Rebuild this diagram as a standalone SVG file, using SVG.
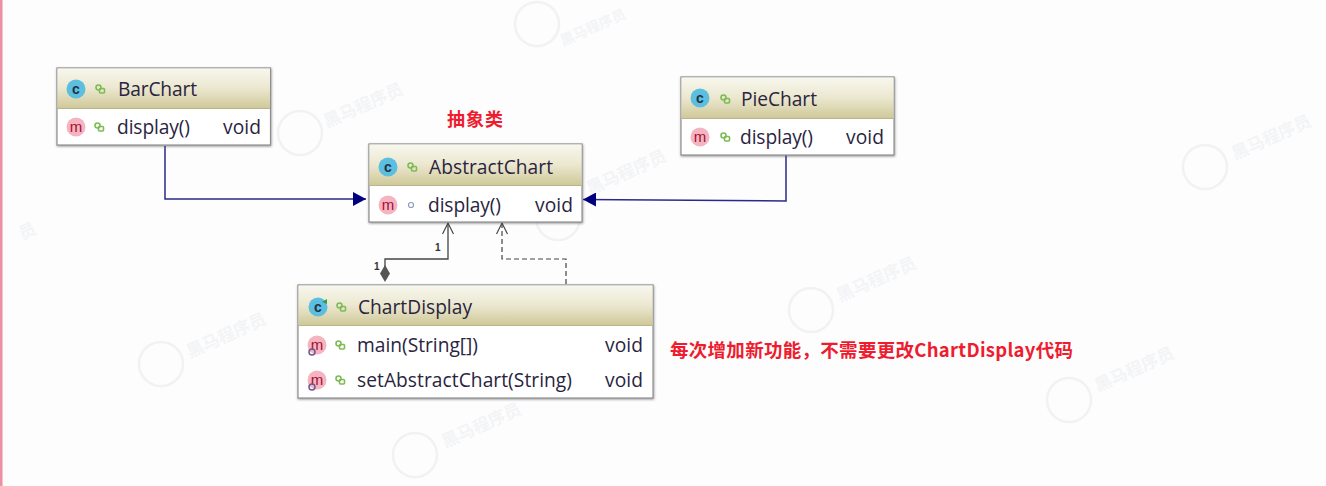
<svg xmlns="http://www.w3.org/2000/svg" width="1326" height="486" viewBox="0 0 1326 486">
<style>
.t{font-family:"Open Sans","Noto Sans",sans-serif;font-size:19.2px;fill:#2a2440}
.box{fill:#fff;stroke:#8f8f8f;stroke-width:1.2;filter:url(#sh)}
.c{fill:#5dbfe0}.ci{font-family:"Liberation Sans",sans-serif;font-size:14px;font-weight:700;fill:#234;text-anchor:middle}
.m{fill:#f6b4c0}.mi{font-family:"Liberation Sans",sans-serif;font-size:15px;fill:#a01038;text-anchor:middle}
.lk{fill:none;stroke:#7dbb55;stroke-width:1.6}
.sep{stroke:#b9b48c;stroke-width:1}
.red{font-family:"Noto Sans CJK SC",sans-serif;font-weight:700;fill:#ee1c2e}
.wm{font-family:"Noto Sans CJK SC",sans-serif;font-size:17px;font-weight:700;fill:#f3f4f6}
.wc{fill:none;stroke:#f1f2f4;stroke-width:2.500}
.n{font-family:"Liberation Sans",sans-serif;font-size:10px;font-weight:700;fill:#333}
</style>
<defs>
<linearGradient id="g" x1="0" y1="0" x2="0" y2="1"><stop offset="0" stop-color="#f8f7ee"/><stop offset="0.5" stop-color="#ebe7cf"/><stop offset="1" stop-color="#cfc898"/></linearGradient>
<filter id="sh" x="-5%" y="-5%" width="110%" height="115%"><feDropShadow dx="0.5" dy="1" stdDeviation="0.8" flood-color="#555" flood-opacity="0.6"/></filter>
<marker id="tri" markerUnits="userSpaceOnUse" markerWidth="14" markerHeight="14" refX="13" refY="7" orient="auto"><path d="M0 0L13 7L0 14Z" fill="#00007f"/></marker>
<marker id="op" markerUnits="userSpaceOnUse" markerWidth="14" markerHeight="12" refX="12" refY="6" orient="auto"><path d="M1 0.5L12 6L1 11.5" fill="none" stroke="#444" stroke-width="1.2"/></marker>
<g id="lock"><circle cx="-1.5" cy="-1.500" r="2.500" class="lk"/><rect x="-0.5" y="-0.5" width="5" height="4.500" rx="1" class="lk"/></g>
</defs>
<rect width="1326" height="486" fill="#fdfdfe"/>
<rect x="0" y="0" width="2.500" height="486" fill="#ee8fa3"/>
<g id="watermark">
<circle class="wc" cx="300" cy="133" r="22"/><text class="wm" transform="translate(327 128) rotate(-24)">黑马程序员</text>
<circle class="wc" cx="537" cy="24" r="22"/><text class="wm" style="font-size:14px" transform="translate(563 46) rotate(-24)">黑马程序员</text>
<circle class="wc" cx="558" cy="218" r="22"/><text class="wm" transform="translate(590 195) rotate(-24)">黑马程序员</text>
<circle class="wc" cx="811" cy="310" r="22"/><text class="wm" transform="translate(840 302) rotate(-24)">黑马程序员</text>
<circle class="wc" cx="161" cy="364" r="22"/><text class="wm" transform="translate(190 358) rotate(-24)">黑马程序员</text>
<circle class="wc" cx="415" cy="455" r="22"/><text class="wm" transform="translate(445 448) rotate(-24)">黑马程序员</text>
<circle class="wc" cx="1069" cy="400" r="22"/><text class="wm" transform="translate(1098 392) rotate(-24)">黑马程序员</text>
<circle class="wc" cx="1205" cy="167" r="22"/><text class="wm" transform="translate(1235 160) rotate(-24)">黑马程序员</text>
<text class="wm" transform="translate(790 122) rotate(-24)">黑马程序员</text>
<text class="wm" transform="translate(22 240) rotate(-24)">员</text>
</g>
<g id="connectors" fill="none">
<path d="M165 146V199H366" stroke="#2a2a8a" stroke-width="1.500" marker-end="url(#tri)"/>
<path d="M786 155V201L583 199.500" stroke="#2a2a8a" stroke-width="1.500" marker-end="url(#tri)"/>
<path d="M385 268V259H448V223" stroke="#444" stroke-width="1.300" marker-end="url(#op)"/>
<path d="M566 284V259H502V223" stroke="#444" stroke-width="1.200" stroke-dasharray="5 3" marker-end="url(#op)"/>
<path d="M385 265L390 273.500L385 282L380 273.500Z" fill="#555"/>
<text class="n" x="435" y="251">1</text>
<text class="n" x="374" y="270">1</text>
</g>
<g id="BarChart">
<rect class="box" x="57" y="68" width="213.500" height="77"/>
<rect x="57.500" y="68.500" width="212.500" height="40" fill="url(#g)"/><line class="sep" x1="57" y1="108.500" x2="270" y2="108.500"/>
<circle class="c" cx="76" cy="89" r="9.500"/><text class="ci" x="76" y="94">c</text><use href="#lock" x="100" y="89"/>
<text class="t" x="118" y="96" textLength="79">BarChart</text>
<circle class="m" cx="76" cy="127" r="9.500"/><text class="mi" x="76" y="132">m</text><use href="#lock" x="99" y="127"/>
<text class="t" x="117" y="134" textLength="73">display()</text><text class="t" x="223" y="134" textLength="38">void</text>
</g>
<g id="PieChart">
<rect class="box" x="681" y="77" width="213" height="78"/>
<rect x="681.500" y="77.500" width="212" height="41" fill="url(#g)"/><line class="sep" x1="681" y1="118.500" x2="894" y2="118.500"/>
<circle class="c" cx="700" cy="98" r="9.500"/><text class="ci" x="700" y="103">c</text><use href="#lock" x="725" y="99"/>
<text class="t" x="741" y="106" textLength="76">PieChart</text>
<circle class="m" cx="700" cy="137" r="9.500"/><text class="mi" x="700" y="142">m</text><use href="#lock" x="725" y="137"/>
<text class="t" x="740" y="144" textLength="73">display()</text><text class="t" x="846" y="144" textLength="38">void</text>
</g>
<g id="AbstractChart">
<rect class="box" x="369" y="144" width="213" height="78"/>
<rect x="369.500" y="144.500" width="212" height="41" fill="url(#g)"/><line class="sep" x1="369" y1="185.500" x2="582" y2="185.500"/>
<circle class="c" cx="388" cy="167" r="9.500"/><text class="ci" x="388" y="172">c</text><use href="#lock" x="412" y="167"/>
<text class="t" x="429" y="174" textLength="124">AbstractChart</text>
<circle class="m" cx="388" cy="205" r="9.500"/><text class="mi" x="388" y="210">m</text><circle cx="411" cy="205" r="2.500" fill="none" stroke="#8aa0b8" stroke-width="1.200"/>
<text class="t" x="428" y="212" textLength="73">display()</text><text class="t" x="535" y="212" textLength="38">void</text>
</g>
<g id="ChartDisplay">
<rect class="box" x="298" y="285" width="355" height="113"/>
<rect x="298.500" y="285.500" width="354" height="40" fill="url(#g)"/><line class="sep" x1="298" y1="325.500" x2="653" y2="325.500"/>
<circle class="c" cx="318" cy="307" r="9.500"/><text class="ci" x="318" y="312">c</text><path d="M322 302l5-3v5z" fill="#3a9a4a"/><use href="#lock" x="341" y="307"/>
<text class="t" x="358" y="314" textLength="114">ChartDisplay</text>
<circle class="m" cx="317" cy="345" r="9.500"/><text class="mi" x="317" y="350">m</text><circle cx="312" cy="352" r="3" fill="none" stroke="#6a5a90" stroke-width="1.500"/><use href="#lock" x="340" y="345"/>
<text class="t" x="357" y="352" textLength="121">main(String[])</text><text class="t" x="605" y="352" textLength="38">void</text>
<circle class="m" cx="317" cy="380" r="9.500"/><text class="mi" x="317" y="385">m</text><circle cx="312" cy="387" r="3" fill="none" stroke="#6a5a90" stroke-width="1.500"/><use href="#lock" x="340" y="380"/>
<text class="t" x="357" y="387" textLength="215">setAbstractChart(String)</text><text class="t" x="605" y="387" textLength="38">void</text>
</g>
<text class="red" x="447" y="126" font-size="18" textLength="56">抽象类</text>
<text class="red" x="670" y="357" font-size="18.500" textLength="403">每次增加新功能，不需要更改ChartDisplay代码</text>
</svg>
